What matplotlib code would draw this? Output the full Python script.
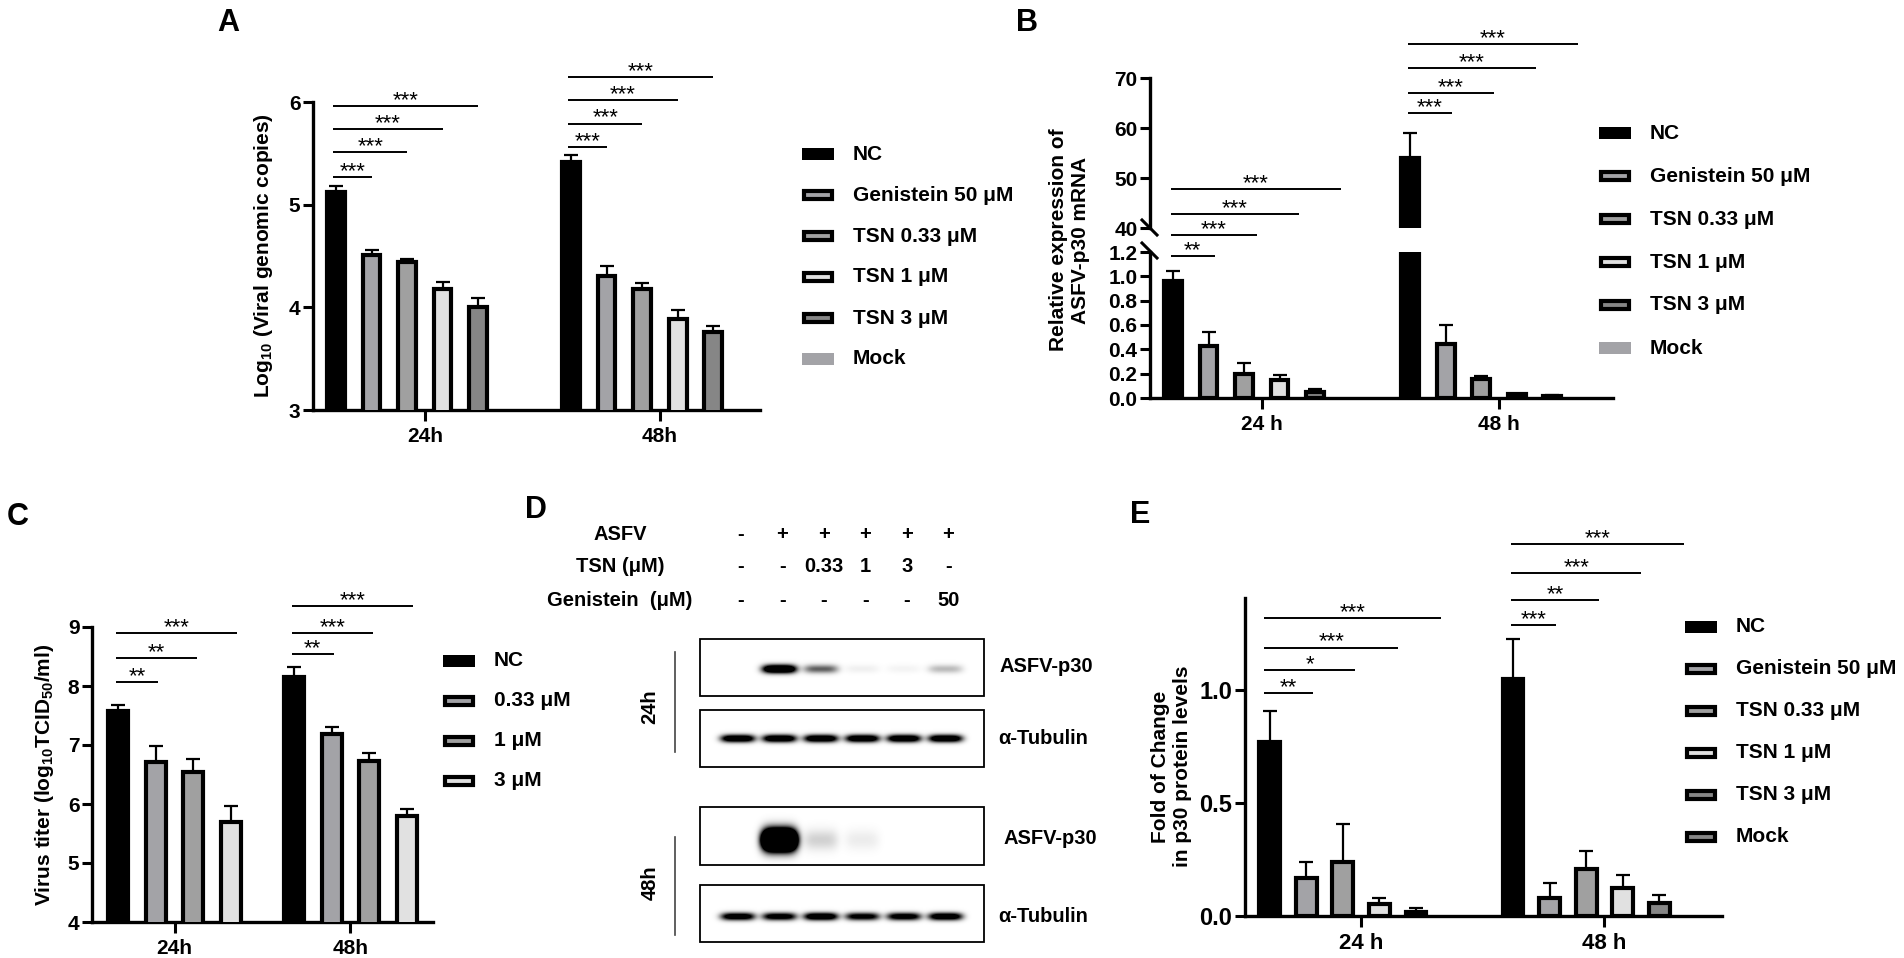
import numpy as np
import matplotlib
matplotlib.use("Agg")
import matplotlib.pyplot as plt
from matplotlib.patches import Rectangle

# ---- datos ----
hours = ["24h", "48h"]
hours_sp = ["24 h", "48 h"]
legend_ABE = ["NC", "Genistein 50 μM", "TSN 0.33 μM", "TSN 1 μM", "TSN 3 μM", "Mock"]
legend_C = ["NC", "0.33 μM", "1 μM", "3 μM"]

# A: Log10 copias genomicas
a_24 = [5.12, 4.51, 4.44, 4.18, 4.00]
a_24_err = [0.06, 0.05, 0.03, 0.07, 0.09]
a_48 = [5.42, 4.31, 4.18, 3.89, 3.76]
a_48_err = [0.06, 0.09, 0.06, 0.08, 0.06]
a_sig_24 = ["***", "***", "***", "***"]
a_sig_48 = ["***", "***", "***", "***"]

# B: expresion relativa ASFV-p30 mRNA
b_24 = [0.96, 0.43, 0.20, 0.15, 0.05]
b_24_err = [0.08, 0.11, 0.09, 0.04, 0.02]
b_48 = [54.0, 0.44, 0.16, 0.03, 0.02]
b_48_err = [5.0, 0.16, 0.02, 0.005, 0.005]
b_sig_24 = ["**", "***", "***", "***"]
b_sig_48 = ["***", "***", "***", "***"]

# C: titulo viral
c_24 = [7.58, 6.71, 6.54, 5.69]
c_24_err = [0.10, 0.27, 0.22, 0.27]
c_48 = [8.15, 7.18, 6.73, 5.79]
c_48_err = [0.17, 0.13, 0.13, 0.12]
c_sig_24 = ["**", "**", "***"]
c_sig_48 = ["**", "***", "***"]

# D: western blot (intensidad relativa de bandas por carril)
lane_asfv = ["-", "+", "+", "+", "+", "+"]
lane_tsn = ["-", "-", "0.33", "1", "3", "-"]
lane_gen = ["-", "-", "-", "-", "-", "50"]
p30_24 = [0.0, 1.2, 0.42, 0.04, 0.03, 0.18]
tub_24 = [1.0, 1.0, 1.0, 1.0, 1.0, 1.0]
p30_48 = [0.0, 3.0, 0.12, 0.05, 0.0, 0.0]
tub_48 = [0.9, 0.85, 1.0, 0.8, 0.85, 0.95]

# E: p30 proteina
e_24 = [0.77, 0.17, 0.24, 0.053, 0.018]
e_24_err = [0.14, 0.07, 0.17, 0.027, 0.017]
e_48 = [1.05, 0.08, 0.21, 0.124, 0.057]
e_48_err = [0.18, 0.065, 0.08, 0.056, 0.036]
e_sig_24 = ["**", "*", "***", "***"]
e_sig_48 = ["***", "**", "***", "***"]

# ---- estilo ----
W, H = 1904, 958
plt.rcParams["font.family"] = ["Liberation Sans", "DejaVu Sans"]
plt.rcParams["font.weight"] = "bold"
plt.rcParams["mathtext.fontset"] = "custom"
plt.rcParams["mathtext.rm"] = "Liberation Sans:bold"
plt.rcParams["mathtext.it"] = "Liberation Sans:bold"
plt.rcParams["mathtext.bf"] = "Liberation Sans:bold"
plt.rcParams["mathtext.default"] = "rm"

col5 = ["black", "#a3a3a7", "#a0a0a0", "#e1e1e1", "#868686"]
col4 = ["black", "#a3a3a7", "#a0a0a0", "#e1e1e1"]
mock_col = "#a3a3a7"

fig = plt.figure(figsize=(W / 100, H / 100), dpi=100)

# capa en pixeles para letras, leyendas y el blot
ov = fig.add_axes([0, 0, 1, 1], zorder=-1)
ov.axis("off")


def px_axes(l, t, r, b):
    return fig.add_axes([l / W, 1 - b / H, (r - l) / W, (b - t) / H])


def estilo(ax, fs=15, fsx=15):
    ax.set_facecolor("none")
    for s in ("top", "right"):
        ax.spines[s].set_visible(False)
    for s in ("left", "bottom"):
        ax.spines[s].set_linewidth(2.4)
    ax.tick_params(axis="y", width=2.2, length=7, labelsize=fs, pad=2)
    ax.tick_params(axis="x", width=2.2, length=8, labelsize=fsx, pad=4)


def barras(ax, x0, vals, errs, colors, bw):
    xs = x0 + np.arange(len(vals))
    ax.bar(xs, vals, width=bw, color=colors, edgecolor="black", linewidth=3, zorder=3)
    ax.errorbar(xs, vals, yerr=[np.zeros(len(vals)), errs], fmt="none", ecolor="black",
                elinewidth=1.6, capsize=5, capthick=1.6, zorder=2)


def signif(ax, x0, off, step, ys, labels):
    for k, (y, lab) in enumerate(zip(ys, labels), start=1):
        xa, xb = x0 + off, x0 + step * k
        ax.plot([xa, xb], [y, y], color="black", lw=1.4, clip_on=False,
                solid_capstyle="butt", zorder=4)
        ax.text((xa + xb) / 2, y, lab, ha="center", va="baseline", fontsize=16,
                fontweight="normal", clip_on=False)


def leyenda(x, y0, dy, labels, colors, edged):
    for i, (lab, c, e) in enumerate(zip(labels, colors, edged)):
        y = y0 + dy * i
        if e:
            ov.add_patch(Rectangle((x + 2, y - 4), 28, 8, facecolor=c, edgecolor="black", linewidth=3))
        else:
            ov.add_patch(Rectangle((x, y - 6), 32, 12, facecolor=c, edgecolor="none"))
        ov.text(x + 51, y, lab, ha="left", va="center", fontsize=15, fontweight="bold")


# ---------- A ----------
axA = px_axes(313, 102, 760, 410)
gA = 6.62
barras(axA, 0, a_24, a_24_err, col5, 0.50)
barras(axA, gA, a_48, a_48_err, col5, 0.50)
signif(axA, 0, -0.08, 1.0, [5.27, 5.51, 5.74, 5.96], a_sig_24)
signif(axA, gA, -0.08, 1.0, [5.56, 5.79, 6.02, 6.24], a_sig_48)
axA.set_xlim(-0.65, 11.94)
axA.set_ylim(3, 6)
axA.set_yticks([3, 4, 5, 6])
axA.set_xticks([2.5, gA + 2.5])
axA.set_xticklabels(hours)
estilo(axA)
axA.set_ylabel("Log$_{10}$ (Viral genomic copies)", fontsize=15, fontweight="bold")
axA.yaxis.set_label_coords((275 - 313) / 447, 0.5)
leyenda(802, 154, 41, legend_ABE, col5 + [mock_col], [False, True, True, True, True, False])

# ---------- B (eje cortado) ----------
axBl = px_axes(1150, 252, 1613, 398)
axBh = px_axes(1150, 78, 1613, 228)
gB = 6.68
for ax in (axBl, axBh):
    barras(ax, 0, b_24, b_24_err, col5, 0.50)
    barras(ax, gB, b_48, b_48_err, col5, 0.50)
    ax.set_xlim(-0.648, 12.39)
    estilo(ax, fs=15, fsx=15)
axBl.set_ylim(0, 1.2)
axBl.set_yticks(np.arange(0, 1.21, 0.2))
axBl.set_yticklabels([f"{v:.1f}" for v in np.arange(0, 1.21, 0.2)])
axBl.set_xticks([2.5, gB + 2.5])
axBl.set_xticklabels(hours_sp)
axBh.set_ylim(40, 70)
axBh.set_yticks([40, 50, 60, 70])
axBh.spines["bottom"].set_visible(False)
axBh.set_xticks([])
signif(axBl, 0, -0.07, 1.18, [1.167, 1.339, 1.512, 1.717], b_sig_24)
signif(axBh, gB, -0.07, 1.18, [63.0, 67.0, 72.0, 76.8], b_sig_48)
axBl.set_ylabel("Relative expression of\nASFV-p30 mRNA", fontsize=15, fontweight="bold")
axBl.yaxis.set_label_coords((1090 - 1150) / 463, (398 - 240) / 146)
ov.plot([1142, 1157], [220, 235], color="black", lw=2.2)
ov.plot([1142, 1157], [243, 258], color="black", lw=2.2)
leyenda(1599, 133, 43, legend_ABE, col5 + [mock_col], [False, True, True, True, True, False])

# ---------- C ----------
axC = px_axes(92, 627, 433, 922)
gC = 4.67
barras(axC, 0, c_24, c_24_err, col4, 0.53)
barras(axC, gC, c_48, c_48_err, col4, 0.53)
signif(axC, 0, -0.05, 1.05, [8.07, 8.47, 8.90], c_sig_24)
signif(axC, gC, -0.05, 1.05, [8.54, 8.90, 9.36], c_sig_48)
axC.set_xlim(-0.69, 8.36)
axC.set_ylim(4, 9)
axC.set_yticks([4, 5, 6, 7, 8, 9])
axC.set_xticks([1.5, gC + 1.5])
axC.set_xticklabels(hours)
estilo(axC, fs=15, fsx=15)
axC.set_ylabel("Virus titer (log$_{10}$TCID$_{50}$/ml)", fontsize=15, fontweight="bold")
axC.yaxis.set_label_coords((56 - 92) / 341, 0.5)
leyenda(443, 661, 40, legend_C, col4, [False, True, True, True])

# ---------- D ----------
lanes = 738 + 41.5 * np.arange(6)
for y, name, row in ((535, "ASFV", lane_asfv), (567, "TSN (μM)", lane_tsn),
                     (600, "Genistein  (μM)", lane_gen)):
    ov.text(620, y, name, ha="center", va="center", fontsize=14.5, fontweight="bold")
    for lx, s in zip(lanes, row):
        ov.text(lx + 3, y, s, ha="center", va="center", fontsize=14.5, fontweight="bold")


def blot(top, bot, intens, sig_y, off=0.0, half_w=17):
    x0, x1 = 700, 984
    xx = np.arange(x0, x1) + 0.5
    yy = np.arange(top, bot) + 0.5
    X, Y = np.meshgrid(xx, yy)
    img = np.zeros_like(X)
    cy = (top + bot) / 2 + off
    for lx, a in zip(lanes, intens):
        img += a * np.exp(-np.abs((X - lx) / half_w) ** 4) * np.exp(-((Y - cy) / sig_y) ** 2)
    img = np.clip(img * 1.5, 0, 1)
    ov.imshow(img, cmap="gray_r", vmin=0, vmax=1, extent=(x0, x1, bot, top),
              aspect="auto", interpolation="bilinear", zorder=1)
    ov.add_patch(Rectangle((x0, top), x1 - x0, bot - top, fill=False, ec="black", lw=1.3, zorder=2))


blot(639, 696, p30_24, 4.2, 1.5)
blot(710, 767, tub_24, 3.8, 0.0)
blot(807, 865, p30_48, 10.0, 4.0)
blot(885, 942, tub_48, 3.8, 3.0)
ov.text(1000, 667, "ASFV-p30", ha="left", va="center", fontsize=14.5, fontweight="bold")
ov.text(998, 739, "α-Tubulin", ha="left", va="center", fontsize=14.5, fontweight="bold")
ov.text(1003, 838, "ASFV-p30", ha="left", va="center", fontsize=14.5, fontweight="bold")
ov.text(998, 917, "α-Tubulin", ha="left", va="center", fontsize=14.5, fontweight="bold")
ov.plot([675, 675], [652, 752], color="#444444", lw=1.2)
ov.plot([675, 675], [837, 935], color="#444444", lw=1.2)
ov.text(650, 707, "24h", rotation=90, ha="center", va="center", fontsize=14.5, fontweight="bold")
ov.text(650, 883, "48h", rotation=90, ha="center", va="center", fontsize=14.5, fontweight="bold")

# ---------- E ----------
axE = px_axes(1245, 598, 1722, 916)
gE = 6.66
barras(axE, 0, e_24, e_24_err, col5, 0.57)
barras(axE, gE, e_48, e_48_err, col5, 0.57)
signif(axE, 0, -0.15, 1.17, [0.99, 1.09, 1.19, 1.32], e_sig_24)
signif(axE, gE, -0.05, 1.17, [1.29, 1.40, 1.52, 1.65], e_sig_48)
axE.set_xlim(-0.68, 12.38)
axE.set_ylim(0, 1.41)
axE.set_yticks([0, 0.5, 1.0])
axE.set_yticklabels(["0.0", "0.5", "1.0"])
axE.set_xticks([2.5, gE + 2.5])
axE.set_xticklabels(hours_sp)
estilo(axE, fs=17, fsx=16)
axE.set_ylabel("Fold of Change\nin p30 protein levels", fontsize=15, fontweight="bold")
axE.yaxis.set_label_coords((1192 - 1245) / 477, 0.47)
leyenda(1685, 627, 42, legend_ABE, col5 + ["#868686"], [False, True, True, True, True, True])

# letras de panel
for x, y, s in ((228, 23, "A"), (1027, 23, "B"), (18, 517, "C"), (536, 510, "D"), (1140, 515, "E")):
    ov.text(x, y, s, ha="center", va="center", fontsize=22, fontweight="bold")

ov.set_xlim(0, W)
ov.set_ylim(H, 0)

fig.savefig("out.png", dpi=100)
